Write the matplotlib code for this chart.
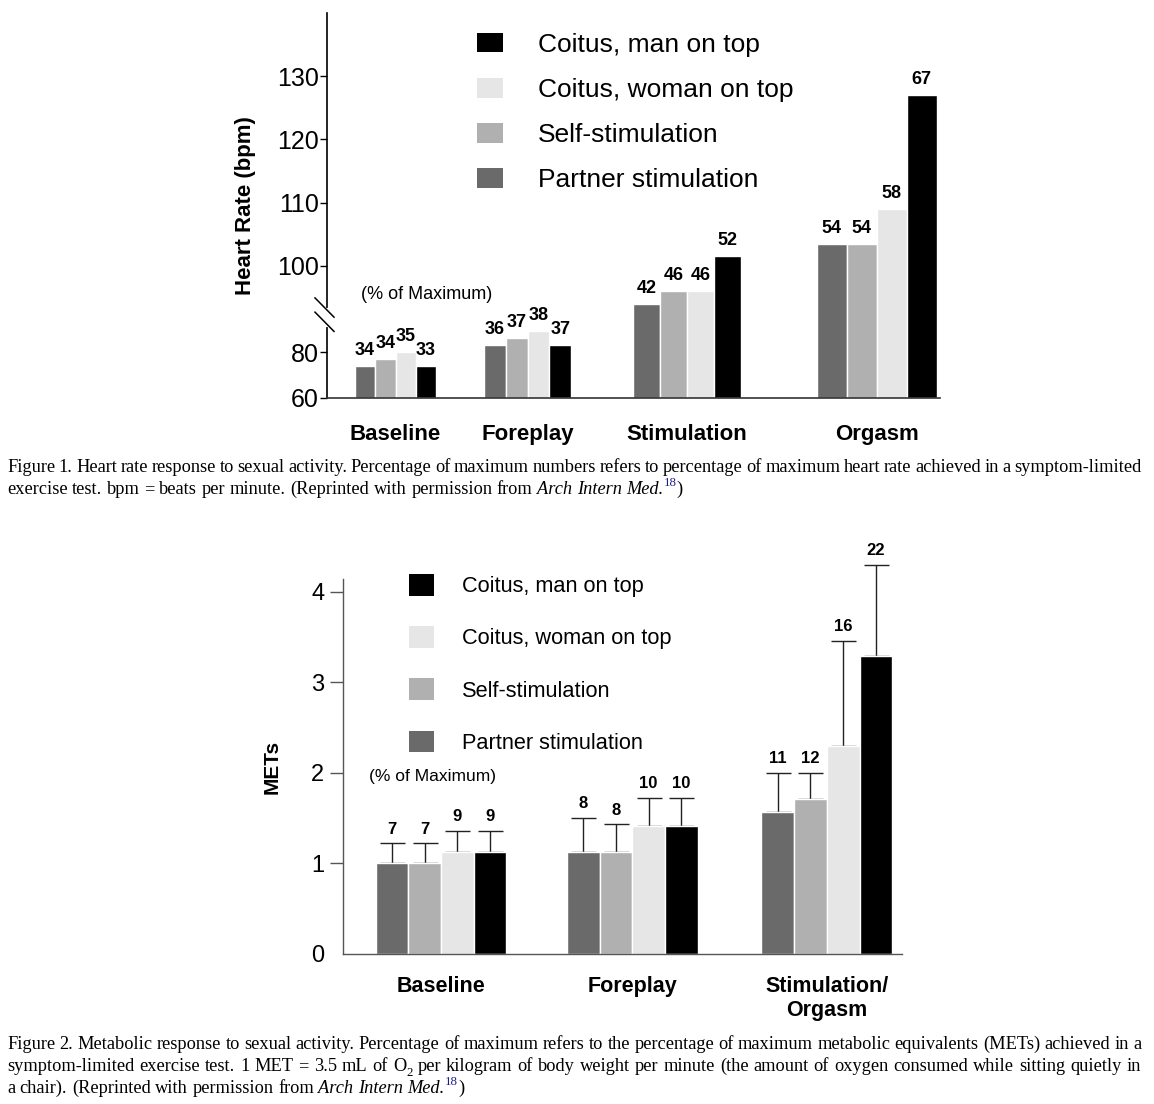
import numpy as np
import matplotlib
matplotlib.use("Agg")
import matplotlib.pyplot as plt
import matplotlib.patches as mpatches
from matplotlib.font_manager import FontProperties

# ---- data -------------------------------------------------------------
series_names = ["Partner stimulation", "Self-stimulation",
                "Coitus, woman on top", "Coitus, man on top"]
series_colors = ["#6a6a6a", "#b0b0b0", "#e6e6e6", "#000000"]

hr_phases = ["Baseline", "Foreplay", "Stimulation", "Orgasm"]
hr_partner = [74, 83, 94, 103.5]
hr_self = [77, 86, 96, 103.5]
hr_woman = [80, 89, 96, 109]
hr_man = [74, 83, 101.5, 127]
hr_pct_partner = [34, 36, 42, 54]
hr_pct_self = [34, 37, 46, 54]
hr_pct_woman = [35, 38, 46, 58]
hr_pct_man = [33, 37, 52, 67]
hr_ticks = [60, 80, 100, 110, 120, 130]

met_phases = ["Baseline", "Foreplay", "Stimulation/\nOrgasm"]
met_partner = [1.0, 1.13, 1.57]
met_self = [1.0, 1.13, 1.71]
met_woman = [1.13, 1.41, 2.30]
met_man = [1.13, 1.41, 3.29]
met_err_partner = [0.22, 0.37, 0.43]
met_err_self = [0.22, 0.30, 0.29]
met_err_woman = [0.23, 0.31, 1.16]
met_err_man = [0.23, 0.31, 1.01]
met_pct_partner = [7, 8, 11]
met_pct_self = [7, 8, 12]
met_pct_woman = [9, 10, 16]
met_pct_man = [9, 10, 22]
met_ticks = [0, 1, 2, 3, 4]

cap1_line1 = ("Figure 1. Heart rate response to sexual activity. Percentage of maximum numbers "
              "refers to percentage of maximum heart rate achieved in a symptom-limited")
cap1_line2 = "exercise test. bpm = beats per minute. (Reprinted with permission from"
cap2_line1 = ("Figure 2. Metabolic response to sexual activity. Percentage of maximum refers to the "
              "percentage of maximum metabolic equivalents (METs) achieved in a")
cap2_line2a = "symptom-limited exercise test. 1 MET = 3.5 mL of"
cap2_line2b = ("per kilogram of body weight per minute (the amount of oxygen consumed while "
               "sitting quietly in")
cap2_line3 = "a chair). (Reprinted with permission from"

# ---- layout -----------------------------------------------------------
W, H = 1154, 1104
GROUP_X1 = [68.5, 200.5, 360, 549.5]   # px from the left axis
BAR_W1 = [20.3, 21.8, 27, 30]
GROUP_X2 = [0, 5.85, 11.8]             # in bar widths
KNEE, LOW, HIGH = 90, 2.3, 6.33        # broken heart-rate axis (px per bpm)

plt.rcParams["font.family"] = ["Liberation Sans", "DejaVu Sans"]


def px_box(left, top, right, bottom):
    return [left / W, 1 - bottom / H, (right - left) / W, (bottom - top) / H]


def hr_fwd(v):
    v = np.asarray(v, float)
    return np.where(v <= KNEE, (v - 60) * LOW, (KNEE - 60) * LOW + (v - KNEE) * HIGH)


def hr_inv(u):
    u = np.asarray(u, float)
    uk = (KNEE - 60) * LOW
    return np.where(u <= uk, 60 + u / LOW, KNEE + (u - uk) / HIGH)


fig = plt.figure(figsize=(W / 100, H / 100), dpi=100)

# ---- figure 1: heart rate ----------------------------------------------
ax1 = fig.add_axes(px_box(327, 13, 940, 398))
ax1.set_yscale("function", functions=(hr_fwd, hr_inv))
hr_vals = [hr_partner, hr_self, hr_woman, hr_man]
hr_pcts = [hr_pct_partner, hr_pct_self, hr_pct_woman, hr_pct_man]
gx1 = np.array(GROUP_X1)
bw1 = np.array(BAR_W1)
for i, (vals, pct, col) in enumerate(zip(hr_vals, hr_pcts, series_colors)):
    bars = ax1.bar(gx1 + (i - 1.5) * bw1, np.array(vals) - 60, bottom=60, width=bw1,
                   color=col, edgecolor="white", linewidth=1)
    ax1.bar_label(bars, labels=[str(p) for p in pct], padding=5,
                  fontsize=13, fontweight="bold")

ax1.set_xlim(0, 613)
ax1.set_ylim(60, 140)
ax1.set_yticks(hr_ticks)
ax1.set_yticklabels([str(t) for t in hr_ticks], fontsize=18)
ax1.tick_params(axis="y", length=5, width=1, pad=1)
ax1.set_xticks(gx1, hr_phases, fontsize=16, fontweight="bold")
ax1.tick_params(axis="x", length=0, pad=19)
for s in ["top", "right"]:
    ax1.spines[s].set_visible(False)
ax1.spines["left"].set_linewidth(1.2)
ax1.spines["bottom"].set_color("#333333")
ax1.spines["bottom"].set_linewidth(1.2)
ax1.set_ylabel("Heart Rate (bpm)", fontsize=16, fontweight="bold", labelpad=15)

# axis break
ax1.plot([0, 0], [0.19, 0.229], color="white", lw=3, transform=ax1.transAxes,
         clip_on=False, zorder=5)
for yb in (0.26, 0.223):
    ax1.plot([-12 / 613, 7 / 613], [yb, yb - 0.05], color="black", lw=1.1,
             transform=ax1.transAxes, clip_on=False, zorder=6)

ax1.text(0.163, 0.27, "(% of Maximum)", transform=ax1.transAxes, fontsize=13,
         ha="center", va="center")

handles = [mpatches.Patch(facecolor=c, edgecolor="none", label=n)
           for n, c in zip(series_names, series_colors)][::-1]
fig.legend(handles=handles, loc="upper left", bbox_to_anchor=(477 / W, 1 - 33 / H),
           bbox_transform=fig.transFigure, frameon=False, fontsize=19,
           handlelength=1.0, handleheight=0.75, handletextpad=1.3,
           labelspacing=0.80, borderpad=0, borderaxespad=0)

# ---- figure 2: METs ---------------------------------------------------
ax2 = fig.add_axes(px_box(343, 579, 902, 954))
met_vals = [met_partner, met_self, met_woman, met_man]
met_errs = [met_err_partner, met_err_self, met_err_woman, met_err_man]
met_pcts = [met_pct_partner, met_pct_self, met_pct_woman, met_pct_man]
gx2 = np.array(GROUP_X2)
for i, (vals, err, pct, col) in enumerate(zip(met_vals, met_errs, met_pcts, series_colors)):
    err = np.array(err)
    bars = ax2.bar(gx2 + (i - 1.5), vals, width=1.0, color=col, edgecolor="white",
                   linewidth=1, zorder=2, yerr=[np.zeros_like(err), err],
                   error_kw=dict(ecolor="#222222", elinewidth=1, capsize=9,
                                 capthick=1, zorder=1.5, clip_on=False))
    ax2.bar_label(bars, labels=[str(p) for p in pct], padding=5,
                  fontsize=12, fontweight="bold", annotation_clip=False)

ax2.set_xlim(-3.0, 14.1)
ax2.set_ylim(0, 4.14)
ax2.set_yticks(met_ticks)
ax2.set_yticklabels([str(t) for t in met_ticks], fontsize=17)
ax2.tick_params(axis="y", length=9.5, width=1, color="#555555", pad=4)
ax2.yaxis.get_major_ticks()[0].tick1line.set_visible(False)
ax2.set_xticks(gx2, met_phases, fontsize=15.5, fontweight="bold")
ax2.tick_params(axis="x", length=0, pad=16)
for s in ["top", "right"]:
    ax2.spines[s].set_visible(False)
for s in ["left", "bottom"]:
    ax2.spines[s].set_color("#555555")
    ax2.spines[s].set_linewidth(1)
ax2.set_ylabel("METs", fontsize=15, fontweight="bold", labelpad=21)

ax2.text(0.16, 0.473, "(% of Maximum)", transform=ax2.transAxes, fontsize=12.5,
         ha="center", va="center")

fig.legend(handles=handles, loc="upper left", bbox_to_anchor=(409 / W, 1 - 574 / H),
           bbox_transform=fig.transFigure, frameon=False, fontsize=15.7,
           handlelength=1.15, handleheight=1.15, handletextpad=1.28,
           labelspacing=1.33, borderpad=0, borderaxespad=0)

# ---- captions ---------------------------------------------------------
CAP_SIZE = 13.2
renderer = fig.canvas.get_renderer()


def plain(s):
    return [[(w, "n")] for w in s.split()]


def draw_line(words, y_base, x0=7, x1=1141, justify=True):
    """Place words (lists of styled runs) on one caption line, in pixels."""
    placed = []
    for word in words:
        runs = []
        for txt, style in word:
            kw = dict(fontsize=CAP_SIZE, family="Liberation Serif", va="baseline")
            dy = 0
            if style == "i":
                kw["style"] = "italic"
            elif style == "sup":
                kw["fontsize"] = CAP_SIZE * 0.7
                kw["color"] = "#1c1c8c"
                dy = CAP_SIZE * 0.45
            elif style == "sub":
                kw["fontsize"] = CAP_SIZE * 0.7
                dy = -CAP_SIZE * 0.25
            t = fig.text(0, 0, txt, **kw)
            prop = FontProperties(family="Liberation Serif", size=kw["fontsize"],
                                  style=kw.get("style", "normal"))
            wpx = renderer.get_text_width_height_descent(txt, prop, ismath=False)[0]
            runs.append((t, wpx, dy))
        placed.append(runs)
    widths = [sum(r[1] for r in runs) for runs in placed]
    if justify and len(placed) > 1:
        gap = (x1 - x0 - sum(widths)) / (len(placed) - 1)
    else:
        gap = CAP_SIZE * 100 / 72 * 0.25
    x = x0
    for runs, wd in zip(placed, widths):
        xx = x
        for t, wpx, dy in runs:
            t.set_position((xx / W, 1 - (y_base - dy * 100 / 72) / H))
            xx += wpx
        x += wd + gap


ref_end = [[("Arch", "i")], [("Intern", "i")], [("Med.", "i"), ("18", "sup"), (")", "n")]]
draw_line(plain(cap1_line1), 472)
draw_line(plain(cap1_line2) + ref_end, 494, justify=False)
draw_line(plain(cap2_line1), 1049)
draw_line(plain(cap2_line2a) + [[("O", "n"), ("2", "sub")]] + plain(cap2_line2b), 1071)
draw_line(plain(cap2_line3) + ref_end, 1093, justify=False)

fig.savefig("out.png", dpi=100)
